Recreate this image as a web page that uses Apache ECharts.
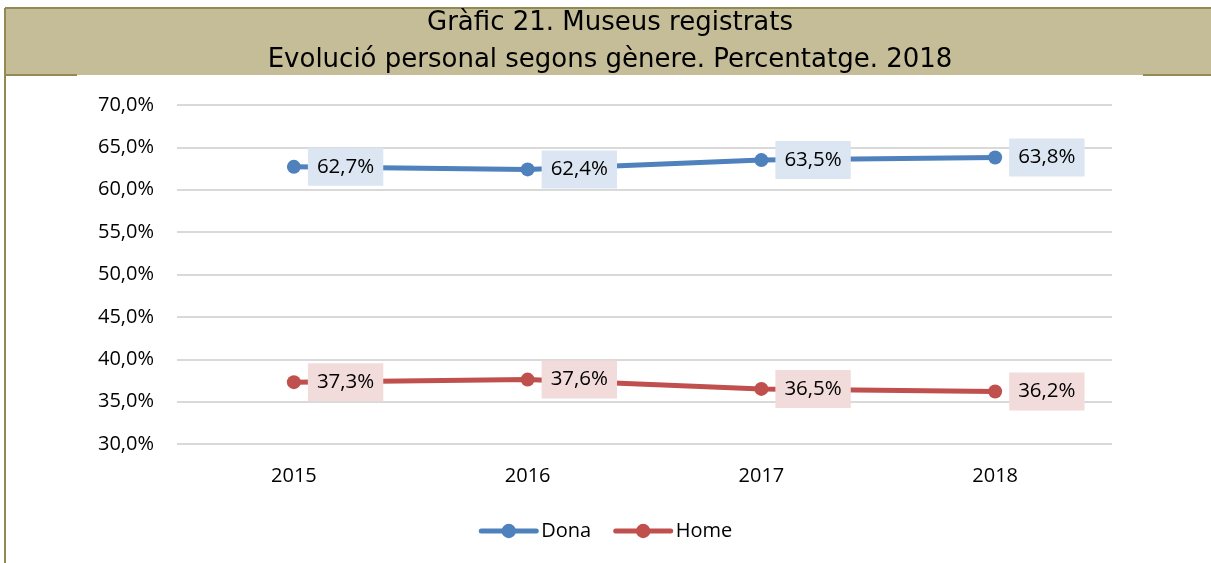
<!DOCTYPE html>
<html><head><meta charset="utf-8">
<script src="https://cdn.jsdelivr.net/npm/echarts@6/dist/echarts.min.js"></script>
<style>html,body{margin:0;padding:0;background:#fff}#c{width:1211px;height:563px}</style>
</head><body><div id="c"></div>
<script>
const categories = ['2015', '2016', '2017', '2018'];
const dona = [62.7, 62.4, 63.5, 63.8];
const home = [37.3, 37.6, 36.5, 36.2];
const titleLines = ['Gràfic 21. Museus registrats', 'Evolució personal segons gènere. Percentatge. 2018'];

const fmt = v => v.toFixed(1).replace('.', ',') + '%';
const chart = echarts.init(document.getElementById('c'));
const labelFont = 'Open Sans';
function mkSeries(name, data, color, bg) {
  return {
    name, type: 'line', data,
    symbol: 'circle', symbolSize: 14,
    lineStyle: { color, width: 5 },
    itemStyle: { color },
    label: {
      show: true, position: 'right', distance: 7,
      formatter: p => fmt(p.value),
      fontFamily: labelFont, fontSize: 20.5, color: '#000',
      backgroundColor: bg, padding: [9, 9, 8, 9]
    }
  };
}
chart.setOption({
  animation: false,
  graphic: [
    { type: 'rect', shape: { x: 5, y: 8, width: 1206, height: 67 }, style: { fill: '#C4BD97' } },
    { type: 'line', shape: { x1: 5, y1: 8, x2: 1211, y2: 8 }, style: { stroke: '#938953', lineWidth: 2 } },
    { type: 'line', shape: { x1: 5, y1: 8, x2: 5, y2: 563 }, style: { stroke: '#938953', lineWidth: 2 } },
    { type: 'line', shape: { x1: 5, y1: 75, x2: 77, y2: 75 }, style: { stroke: '#938953', lineWidth: 2 } },
    { type: 'line', shape: { x1: 1143, y1: 75, x2: 1211, y2: 75 }, style: { stroke: '#938953', lineWidth: 2 } },
    { type: 'text', style: { text: titleLines[0], x: 610, y: 23, textAlign: 'center', textVerticalAlign: 'middle', font: '26px "DejaVu Sans", Verdana, sans-serif', fill: '#000' } },
    { type: 'text', style: { text: titleLines[1], x: 610, y: 60, textAlign: 'center', textVerticalAlign: 'middle', font: '26px "DejaVu Sans", Verdana, sans-serif', fill: '#000' } }
  ],
  grid: { left: 177, right: 99, top: 105, bottom: 119, containLabel: false },
  xAxis: {
    type: 'category', data: categories, boundaryGap: true,
    axisLine: { show: false }, axisTick: { show: false },
    axisLabel: { fontFamily: labelFont, fontSize: 20, color: '#000', margin: 22 }
  },
  yAxis: {
    type: 'value', min: 30, max: 70, interval: 5,
    axisLine: { show: false }, axisTick: { show: false },
    splitLine: { lineStyle: { color: '#D9D9D9', width: 2 } },
    axisLabel: { formatter: v => fmt(v), fontFamily: labelFont, fontSize: 20, color: '#000', margin: 23 }
  },
  legend: {
    bottom: 17, left: 'center', itemWidth: 55, itemHeight: 18, itemGap: 22,
    lineStyle: { width: 5, cap: 'round' },
    textStyle: { fontFamily: labelFont, fontSize: 20, color: '#000', padding: [0, 0, 0, 0] },
    data: ['Dona', 'Home']
  },
  series: [
    mkSeries('Dona', dona, '#4F81BD', '#DCE6F2'),
    mkSeries('Home', home, '#C0504D', '#F2DCDB')
  ]
});
</script></body></html>
